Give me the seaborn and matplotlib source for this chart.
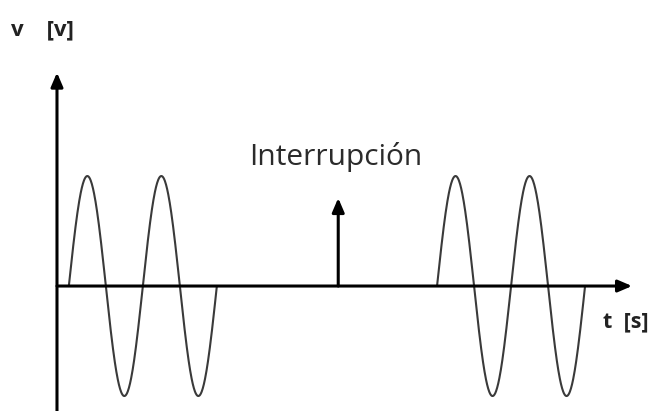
import numpy as np
import pandas as pd
import seaborn as sns
import matplotlib.pyplot as plt

sns.set_theme(style="white")
plt.rcParams["font.family"] = ["Open Sans", "DejaVu Sans"]

# datos (periodo = 1, amplitud = 1)
burst_start = [0.16, 5.135]     # inicio de cada tramo de onda
burst_cycles = [2, 2]
amplitude = 1.0
period = 1.0
interrupt_t = 3.80               # instante de la interrupción
interrupt_v = 0.80
t_axis_end = 7.77
v_axis_end = 1.94

rows = []
for i, (t0, n) in enumerate(zip(burst_start, burst_cycles)):
    tt = np.linspace(t0, t0 + n * period, 400)
    for t in tt:
        rows.append({"t": t, "v": amplitude * np.sin(2 * np.pi * (t - t0) / period), "tramo": i})
df = pd.DataFrame(rows)

fig = plt.figure(figsize=(6.55, 4.11), dpi=100)
ax = fig.add_axes([0, 0, 1, 1])

sns.lineplot(data=df, x="t", y="v", units="tramo", estimator=None,
             color="#3a3a3a", linewidth=1.5, ax=ax, legend=False)

# ejes con flecha
arrow = dict(arrowstyle="-|>,head_length=0.7,head_width=0.3", color="black",
             lw=2.2, shrinkA=0, shrinkB=0)
ax.annotate("", xy=(t_axis_end, 0), xytext=(0, 0), arrowprops=arrow)
ax.annotate("", xy=(0, v_axis_end), xytext=(0, -1.2), arrowprops=arrow)
ax.annotate("", xy=(interrupt_t, interrupt_v), xytext=(interrupt_t, 0), arrowprops=arrow)

ax.text(interrupt_t - 0.04, 1.17, "Interrupción", ha="center", va="center",
        fontsize=21.5, color="#2b2b2b")
ax.text(-0.62, 2.33, "v    [v]", ha="left", va="center", fontsize=16,
        fontweight="bold", color="#222222")
ax.text(7.38, -0.33, "t  [s]", ha="left", va="center", fontsize=15.5,
        fontweight="bold", color="#222222")

ax.set_xlim(-0.77, 8.08)
ax.set_ylim(-1.136, 2.6)
ax.set_axis_off()

fig.savefig("out.png", dpi=100)
plt.close(fig)
